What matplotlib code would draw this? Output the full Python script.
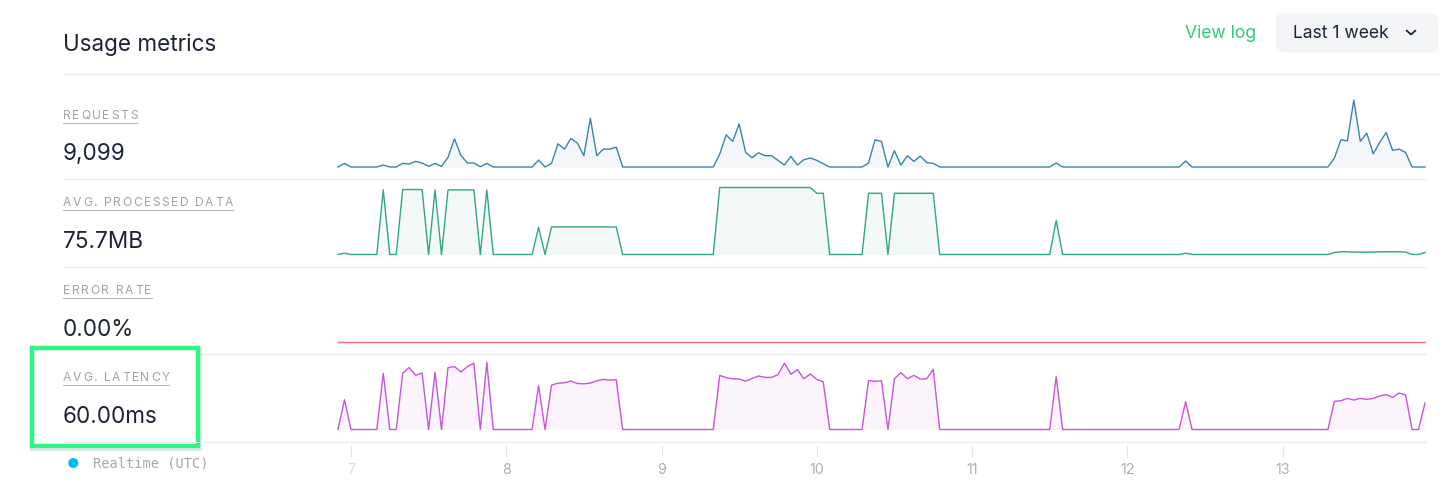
import matplotlib
matplotlib.use("Agg")
import matplotlib.pyplot as plt
from matplotlib.patches import FancyBboxPatch, Rectangle, Circle
import numpy as np

# hourly samples, first one at day 6 22:00 UTC (2 h before the "7" tick)
first_hour = -2
requests = [
    0, 11, 0, 0, 0, 0, 0, 6, 0, 0, 11, 9,
    17, 12, 2, 11, 2, 29, 85, 35, 12, 12, 1, 11,
    0, 0, 0, 0, 0, 0, 0, 21, 0, 11, 70, 54,
    86, 72, 34, 147, 34, 54, 54, 60, 0, 0, 0, 0,
    0, 0, 0, 0, 0, 0, 0, 0, 0, 0, 0, 39,
    97, 77, 130, 44, 28, 43, 34, 34, 20, 6, 32, 6,
    22, 27, 20, 10, 0, 0, 0, 0, 0, 0, 12, 82,
    77, 0, 49, 6, 34, 17, 33, 13, 11, 0, 0, 0,
    0, 0, 0, 0, 0, 0, 0, 0, 0, 0, 0, 0,
    0, 0, 0, 12, 0, 0, 0, 0, 0, 0, 0, 0,
    0, 0, 0, 0, 0, 0, 0, 0, 0, 0, 0, 18,
    0, 0, 0, 0, 0, 0, 0, 0, 0, 0, 0, 0,
    0, 0, 0, 0, 0, 0, 0, 0, 0, 0, 27, 82,
    79, 202, 77, 102, 40, 74, 104, 50, 54, 44, 0, 0,
    0,
]
processed = [
    0, 4, 0, 0, 0, 0, 0, 190, 0, 0, 191, 191,
    191, 191, 0, 190, 0, 190, 190, 190, 190, 190, 0, 190,
    0, 0, 0, 0, 0, 0, 0, 80, 0, 81, 81, 81,
    81, 81, 81, 81, 81, 81, 81, 81, 0, 0, 0, 0,
    0, 0, 0, 0, 0, 0, 0, 0, 0, 0, 0, 197,
    197, 197, 197, 197, 197, 197, 197, 197, 197, 197, 197, 197,
    197, 197, 180, 180, 0, 0, 0, 0, 0, 0, 180, 180,
    180, 0, 180, 180, 180, 180, 180, 180, 180, 0, 0, 0,
    0, 0, 0, 0, 0, 0, 0, 0, 0, 0, 0, 0,
    0, 0, 0, 100, 0, 0, 0, 0, 0, 0, 0, 0,
    0, 0, 0, 0, 0, 0, 0, 0, 0, 0, 0, 4,
    0, 0, 0, 0, 0, 0, 0, 0, 0, 0, 0, 0,
    0, 0, 0, 0, 0, 0, 0, 0, 0, 0, 6, 8,
    8, 7, 7, 7, 7, 8, 8, 8, 8, 7, 0, 0,
    6,
]
error_rate = [0.0] * 169
latency = [
    0, 88, 0, 0, 0, 0, 0, 166, 0, 0, 166, 183,
    160, 167, 0, 169, 0, 183, 186, 170, 186, 196, 0, 198,
    0, 0, 0, 0, 0, 0, 0, 130, 0, 131, 137, 138,
    143, 136, 135, 137, 144, 148, 146, 147, 0, 0, 0, 0,
    0, 0, 0, 0, 0, 0, 0, 0, 0, 0, 0, 160,
    153, 150, 149, 143, 151, 158, 154, 154, 162, 196, 163, 177,
    150, 164, 148, 141, 0, 0, 0, 0, 0, 0, 145, 142,
    144, 0, 150, 168, 150, 160, 149, 150, 178, 0, 0, 0,
    0, 0, 0, 0, 0, 0, 0, 0, 0, 0, 0, 0,
    0, 0, 0, 156, 0, 0, 0, 0, 0, 0, 0, 0,
    0, 0, 0, 0, 0, 0, 0, 0, 0, 0, 0, 82,
    0, 0, 0, 0, 0, 0, 0, 0, 0, 0, 0, 0,
    0, 0, 0, 0, 0, 0, 0, 0, 0, 0, 83, 85,
    92, 87, 92, 89, 92, 99, 103, 95, 108, 102, 0, 0,
    78,
]
labels = ["REQUESTS", "AVG. PROCESSED DATA", "ERROR RATE", "AVG. LATENCY"]
totals = ["9,099", "75.7MB", "0.00%", "60.00ms"]
colors = ["#3b84a8", "#2fa97a", "#f47474", "#c653e4"]
days = [7, 8, 9, 10, 11, 12, 13]

W, H, DPI = 1452, 491, 100
X0, X1 = 338, 1425          # sparkline extent (px)
LEFT, RIGHT = 63, 1426
SEC_TOP = [91.5, 179, 266.5, 354]
SEC_BOT = 441.5
PLOT_H = 67
DARK = "#1f2336"
GREY = "#a3a3a6"
RULE = "#e9e9ed"
plt.rcParams["font.family"] = ["Inter", "DejaVu Sans"]

t = 7 + (np.arange(len(requests)) + first_hour) / 24.0

fig = plt.figure(figsize=(W / DPI, H / DPI), dpi=DPI)
ov = fig.add_axes([0, 0, 1, 1])
ov.set_xlim(0, W); ov.set_ylim(H, 0); ov.axis("off")
r = fig.canvas.get_renderer()


def px_axes(x0, y_top, x1, y_bot):
    return fig.add_axes([x0 / W, 1 - y_bot / H, (x1 - x0) / W, (y_bot - y_top) / H])


def spaced(x, y, s, size, color, gap):
    for ch in s:
        if ch == " ":
            x += size * DPI / 72 * 0.28 + gap
            continue
        tx = ov.text(x, y, ch, fontsize=size, color=color, va="baseline", ha="left", zorder=5)
        x += tx.get_window_extent(r).width + gap
    return x - gap


# header
ov.text(LEFT, 51, "Usage metrics", fontsize=16.2, color=DARK, va="baseline")
ov.plot([LEFT, 1438], [73.5, 73.5], color=RULE, lw=0.8)
ov.text(1185, 33, "View log", fontsize=12.6, color="#2fcc7c", va="center")
ov.add_patch(FancyBboxPatch((1276, 13.5), 162, 39, boxstyle="round,pad=0,rounding_size=6",
                            fc="#f4f5f7", ec="none"))
ov.text(1293, 33, "Last 1 week", fontsize=12.6, color=DARK, va="center")
ov.plot([1406.5, 1411, 1415.5], [30.5, 34.5, 30.5], color=DARK, lw=1.3,
        solid_capstyle="round", solid_joinstyle="round")

# highlight card around latency block
ov.add_patch(Rectangle((32.5, 349.5), 166, 98, fc="none", ec=(0, 0, 0, 0.10), lw=4.5, zorder=2))
ov.add_patch(Rectangle((31.5, 347.5), 166, 98, fc="white", ec="#2ef585", lw=3.2, zorder=3))

# separators
for y in SEC_TOP[1:]:
    ov.plot([LEFT, RIGHT], [y, y], color=RULE, lw=0.8, zorder=1)
ov.plot([LEFT, RIGHT], [SEC_BOT, SEC_BOT], color=RULE, lw=0.8, zorder=4)

series = [requests, processed, error_rate, latency]
for top, lab, tot, col, vals in zip(SEC_TOP, labels, totals, colors, series):
    x_end = spaced(LEFT, top + 27, lab, 8.7, GREY, 1.6)
    ov.plot([LEFT, x_end], [top + 31, top + 31], color="#b9b9bc", lw=0.8, zorder=5)
    ov.text(LEFT, top + 69, tot, fontsize=16.2, color=DARK, va="baseline", zorder=5)

    base = top + 87.5 - 12
    ax = px_axes(X0, base - PLOT_H, X1, base)
    ax.fill_between(t, 0, vals, color=col, alpha=0.06, lw=0)
    ax.plot(t, vals, color=col, lw=1.0, clip_on=False)
    ax.set_xlim(t[0], t[-1])
    ax.set_ylim(0, max(max(vals), 1))
    ax.axis("off")

# time axis
tx = px_axes(X0, 444, X1, 444.5)
tx.set_xlim(t[0], t[-1])
tx.set_xticks(days)
tx.set_xticklabels([str(d) for d in days])
tx.tick_params(axis="x", direction="out", length=8.5, width=0.8, color="#e3e4e8",
               labelsize=10.3, labelcolor="#a9aeb8", pad=5, top=False, bottom=True)
tx.set_yticks([])
for s in tx.spines.values():
    s.set_visible(False)
tx.patch.set_alpha(0)
tx.get_xticklabels()[0].set_alpha(0.45)

# legend
ov.add_patch(Circle((73.3, 463), 5, fc="#00b8f4", ec="none"))
ov.text(93, 463.5, "Realtime (UTC)", fontsize=9.8, color="#a8a8ab", va="center",
        family="DejaVu Sans Mono")

fig.savefig("out.png", dpi=DPI)
